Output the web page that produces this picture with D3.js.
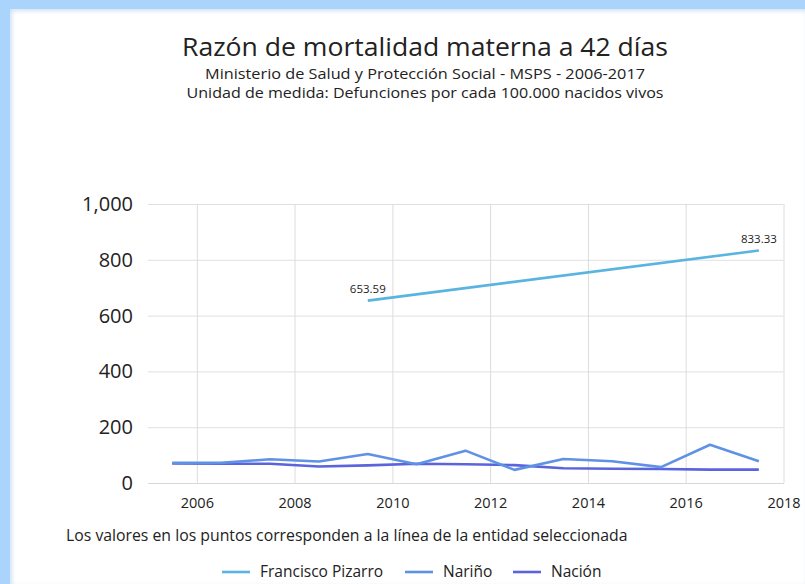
<!DOCTYPE html>
<html>
<head>
<meta charset="utf-8">
<script src="https://cdn.jsdelivr.net/npm/d3@7"></script>
<style>
  html, body { margin: 0; padding: 0; background: #aad4fb; }
  #panel {
    position: absolute; left: 10px; top: 9px; width: 795px; height: 575px;
    background: #fff; box-shadow: inset 2px 2px 4px rgba(120,170,220,0.35);
  }
  svg { position: absolute; left: 0; top: 0; }
  text { font-family: "Open Sans", "Noto Sans", sans-serif; fill: #222; }
</style>
</head>
<body>
<div id="panel"></div>
<svg width="805" height="584"></svg>
<script>
// ====================
// DATA
// ====================
var years = [2005, 2006, 2007, 2008, 2009, 2010, 2011, 2012, 2013, 2014, 2015, 2016, 2017];
var narino = [72, 72, 85, 77, 104, 67, 116, 47, 86, 78, 57, 137, 78];
var nacion = [70, 69, 69, 59, 63, 69, 67, 64, 53, 51, 50, 48, 48];
var pizarroYears = [2009, 2017];
var pizarro = [653.59, 833.33];
var yTicks = [0, 200, 400, 600, 800, 1000];

var seriesNames = ["Francisco Pizarro", "Nariño", "Nación"];
var seriesColors = ["#5ab4e0", "#5f92e4", "#5b63dd"];

// ====================
// SCALES
// ====================
var svg = d3.select("svg");

var x = d3.scaleTime()
    .domain([new Date(2005, 0, 1), new Date(2018, 0, 1)])
    .range([148, 783.5]);

var y = d3.scaleLinear()
    .domain([0, 1000])
    .range([483, 204]);

function mid(yr) {
    return new Date(yr, 6, 1);
}

// ####################################
// # titles (stretched to the reference widths)
// ####################################
svg.append("text")
    .attr("x", 425).attr("y", 56)
    .attr("text-anchor", "middle")
    .attr("font-size", "25px")
    .attr("textLength", 486)
    .attr("lengthAdjust", "spacingAndGlyphs")
    .text("Razón de mortalidad materna a 42 días");

svg.append("text")
    .attr("x", 425).attr("y", 79)
    .attr("text-anchor", "middle")
    .attr("font-size", "14px")
    .attr("textLength", 440)
    .attr("lengthAdjust", "spacingAndGlyphs")
    .text("Ministerio de Salud y Protección Social - MSPS - 2006-2017");

svg.append("text")
    .attr("x", 425).attr("y", 98)
    .attr("text-anchor", "middle")
    .attr("font-size", "14px")
    .attr("textLength", 477)
    .attr("lengthAdjust", "spacingAndGlyphs")
    .text("Unidad de medida: Defunciones por cada 100.000 nacidos vivos");

// ####################################
// # grid + axes
// ####################################
var yAxis = svg.append("g")
    .attr("transform", "translate(148,0)")
    .call(d3.axisLeft(y).tickValues(yTicks).tickFormat(d3.format(",")).tickSize(-635.5).tickPadding(15));

yAxis.select(".domain").remove();
yAxis.selectAll("line").attr("stroke", "#e0e0e0");
yAxis.selectAll("text").attr("font-size", "20px").attr("fill", "#111")
    .style("font-family", "'Open Sans', sans-serif");

var xAxis = svg.append("g")
    .attr("transform", "translate(0,483)")
    .call(d3.axisBottom(x).ticks(d3.timeYear.every(2)).tickFormat(d3.timeFormat("%Y"))
        .tickSize(-279).tickSizeOuter(0).tickPadding(15));

xAxis.select(".domain").attr("stroke", "#d8d8d8");
xAxis.selectAll("line").attr("stroke", "#dcdcdc").attr("y1", 0).attr("y2", -279);
xAxis.selectAll("text").attr("font-size", "14.5px").attr("fill", "#222");

// ####################################
// # lines
// ####################################
var line = d3.line()
    .x(function (d) { return x(mid(d[0])); })
    .y(function (d) { return y(d[1]); });

var series = [
    d3.zip(pizarroYears, pizarro),
    d3.zip(years, narino),
    d3.zip(years, nacion)
];

// draw Nación first so Nariño sits above it
[2, 1, 0].forEach(function (i) {
    svg.append("path")
        .datum(series[i])
        .attr("fill", "none")
        .attr("stroke", seriesColors[i])
        .attr("stroke-width", 2.6)
        .attr("stroke-linejoin", "round")
        .attr("d", line);
});

// point labels for the selected entity
svg.append("g").selectAll("text")
    .data(series[0])
    .enter().append("text")
    .attr("x", function (d) { return x(mid(d[0])); })
    .attr("y", function (d) { return y(d[1]) - 8; })
    .attr("text-anchor", "middle")
    .attr("font-size", "11.5px")
    .attr("fill", "#333")
    .text(function (d) { return d3.format(".2f")(d[1]); });

// ####################################
// # footnote + legend
// ####################################
svg.append("text")
    .attr("x", 66).attr("y", 541)
    .attr("font-size", "15.8px")
    .text("Los valores en los puntos corresponden a la línea de la entidad seleccionada");

var legendX = [222, 405, 513];
var legend = svg.append("g").selectAll("g")
    .data(seriesNames)
    .enter().append("g")
    .attr("transform", function (d, i) { return "translate(" + legendX[i] + ",572)"; });

legend.append("line")
    .attr("x1", 0).attr("x2", 28)
    .attr("stroke", function (d, i) { return seriesColors[i]; })
    .attr("stroke-width", 2.6);

legend.append("text")
    .attr("x", 38).attr("dy", "0.35em")
    .attr("font-size", "15.5px")
    .text(function (d) { return d; });
</script>
</body>
</html>
